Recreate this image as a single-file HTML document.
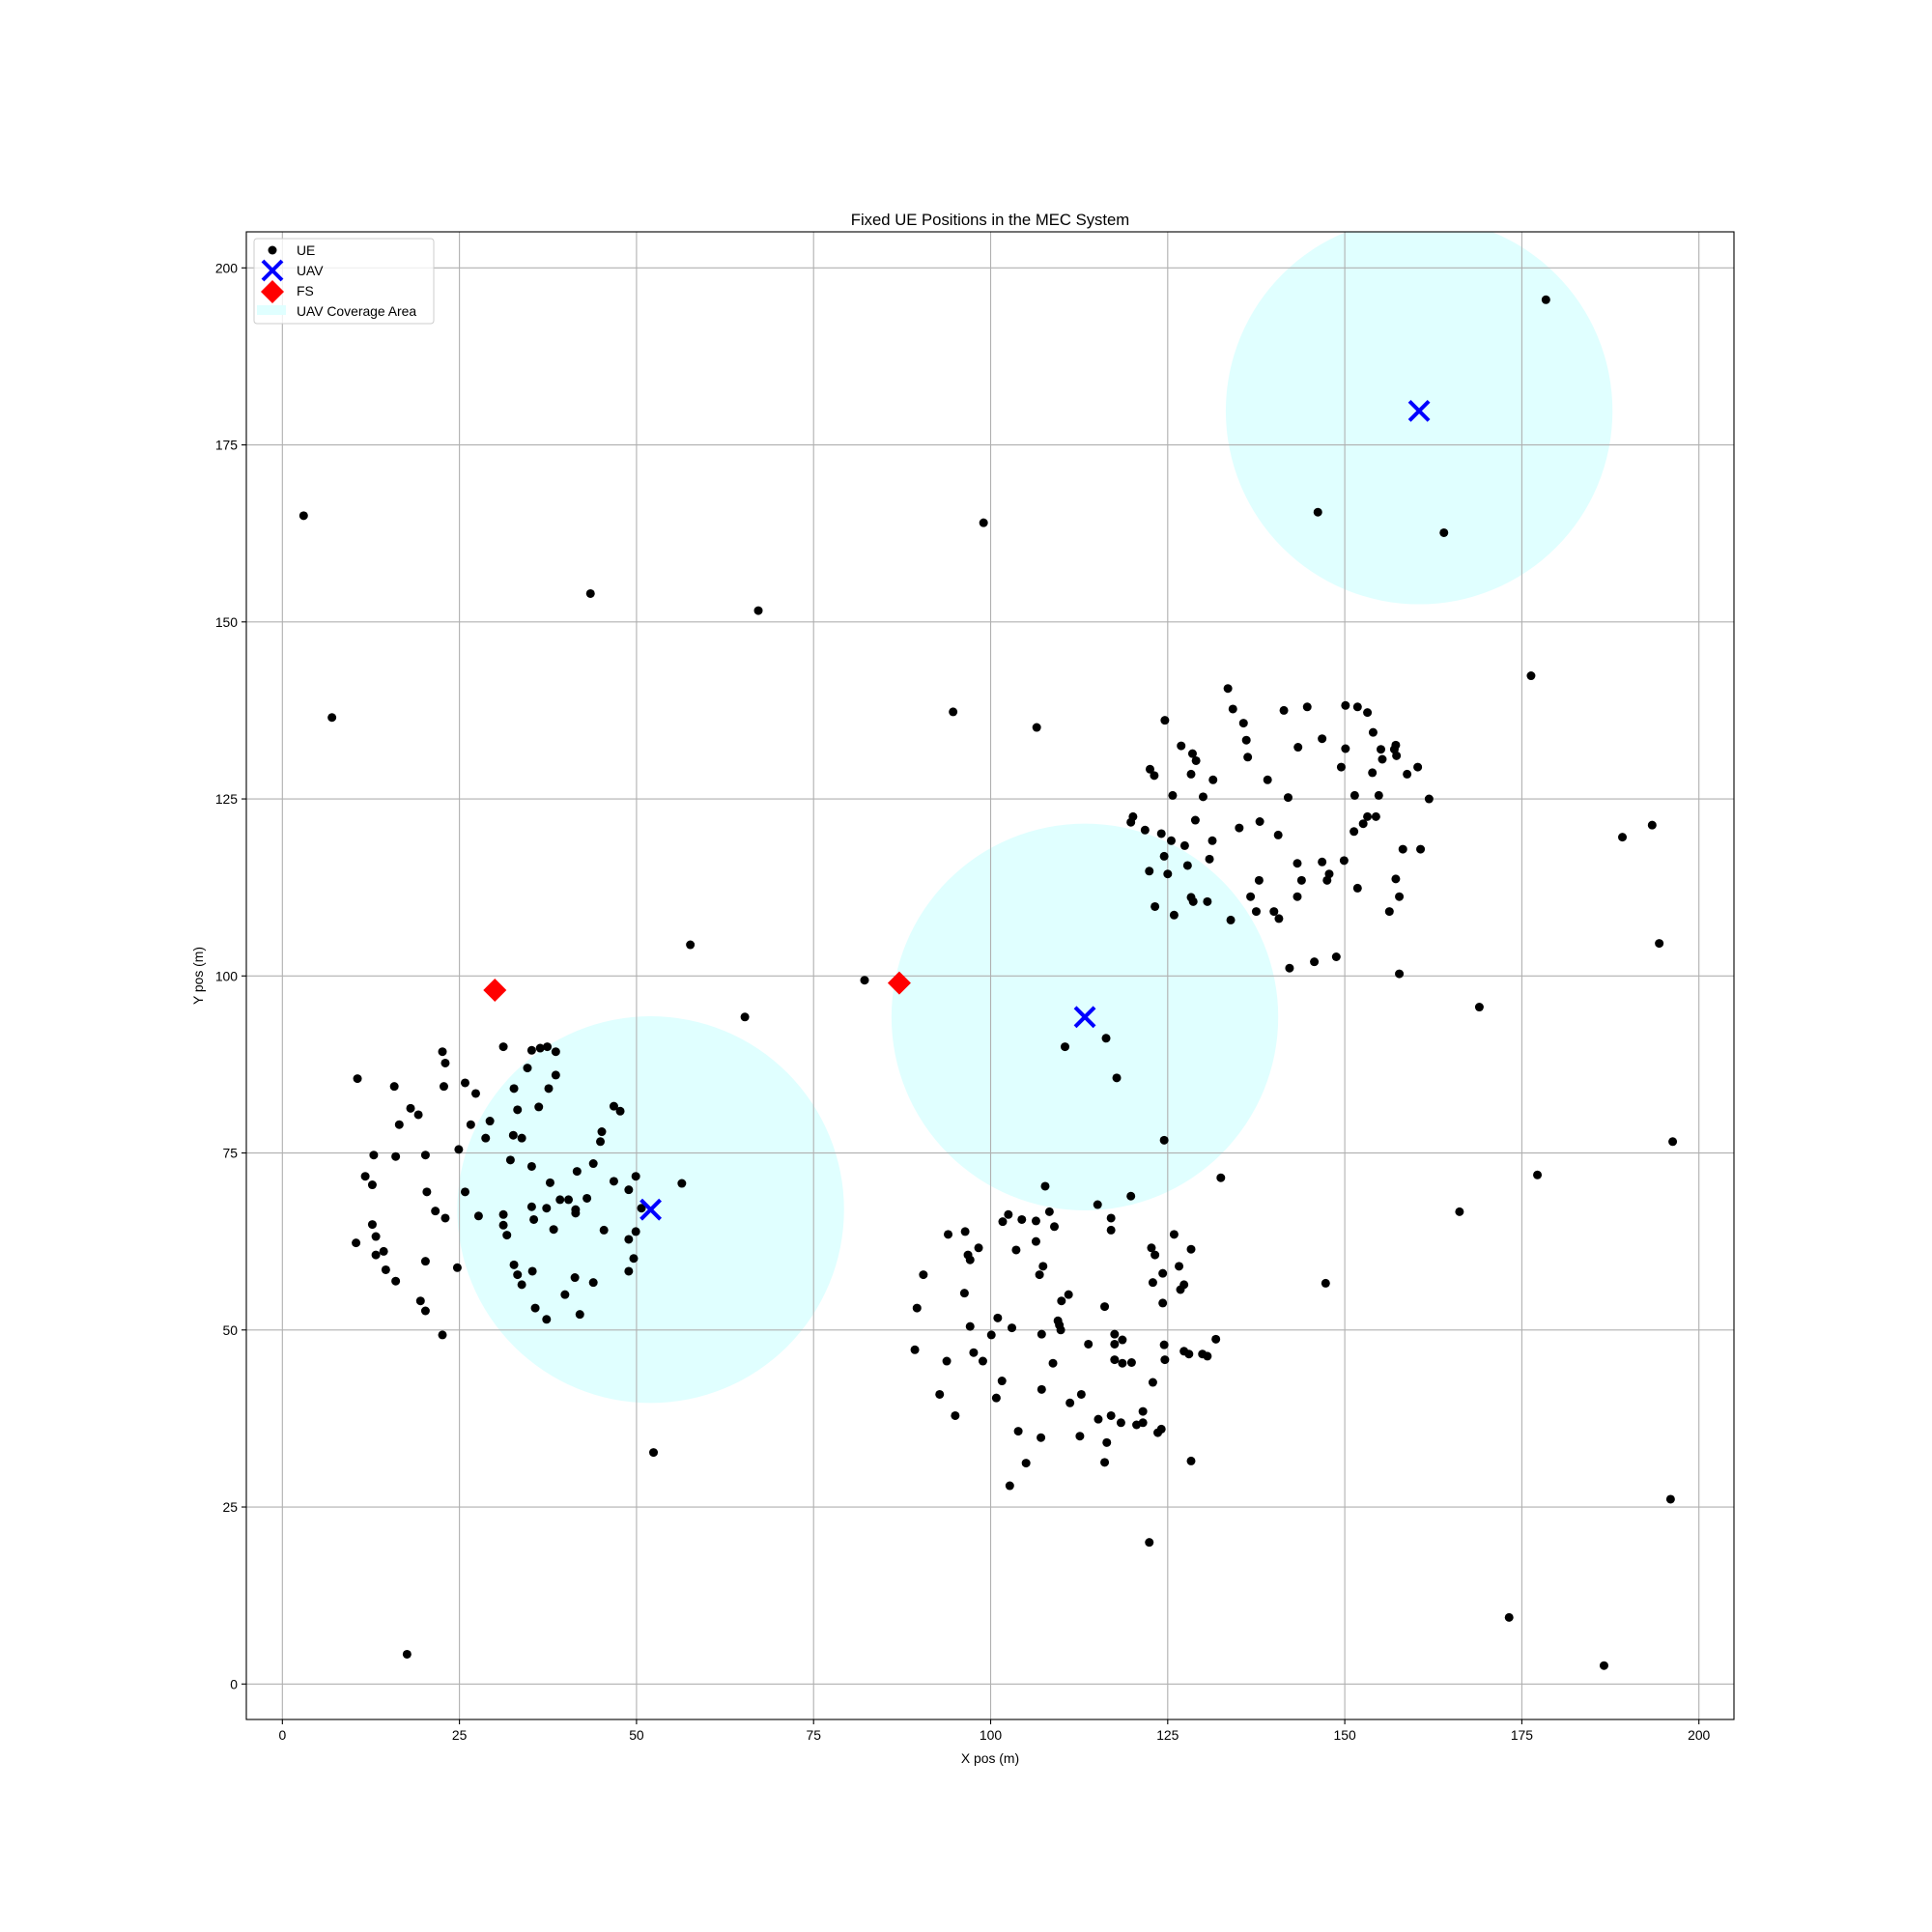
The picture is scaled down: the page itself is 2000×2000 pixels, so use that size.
<!DOCTYPE html>
<html><head><meta charset="utf-8"><style>
html,body{margin:0;padding:0;background:#fff;}
svg{display:block;font-family:"Liberation Sans","DejaVu Sans",sans-serif;}
</style></head><body>
<svg id="chart" width="2000" height="2000" viewBox="0 0 2000 2000">
<defs><clipPath id="plotclip"><rect x="255" y="240" width="1540" height="1540"/></clipPath></defs>
<rect x="0" y="0" width="2000" height="2000" fill="#fff"/>
<g id="circles" clip-path="url(#plotclip)"></g><g id="grid"></g><g id="points"></g><g id="ticks"></g>
<rect x="255" y="240" width="1540" height="1540" fill="none" stroke="#000" stroke-width="1.1"/>
<text x="1025" y="233" font-size="16.7" text-anchor="middle">Fixed UE Positions in the MEC System</text>
<text x="1025" y="1825" font-size="13.9" text-anchor="middle">X pos (m)</text>
<text x="210" y="1010" font-size="13.9" text-anchor="middle" transform="rotate(-90 210 1010)">Y pos (m)</text>
<g>
<rect x="263" y="247" width="186" height="88" rx="3" fill="#fff" fill-opacity="0.8" stroke="#ccc" stroke-width="1"/>
<g><circle cx="282" cy="259" r="4.5" fill="#000"/><text x="307" y="264" font-size="13.9">UE</text></g>
<g><path d="M272 270 L292 290 M292 270 L272 290" stroke="#0000ff" stroke-width="4"/><text x="307" y="285" font-size="13.9">UAV</text></g>
<g><path d="M282 290 L294 302 L282 314 L270 302 Z" fill="#ff0000"/><text x="307" y="306" font-size="13.9">FS</text></g>
<g><rect x="266" y="316" width="30" height="10" fill="#e0ffff"/><text x="307" y="327" font-size="13.9">UAV Coverage Area</text></g>
</g>
</svg>
<script>
const xTicks=[0,25,50,75,100,125,150,175,200];
const yTicks=[0,25,50,75,100,125,150,175,200];
const uavX=[52.0,113.3,160.5];
const uavY=[67.0,94.2,179.8];
const coverageRadius=[27.3,27.3,27.3];
const fsX=[30.0,87.1];
const fsY=[98.0,99.0];
const ueX=[3.0,7.0,43.5,67.2,99.0,94.7,106.5,57.6,65.3,82.2,146.2,164.0,178.4,176.3,189.2,193.4,194.4,169.0,196.3,177.2,166.2,147.3,196.0,173.2,186.6,122.4,17.6,52.4,110.5,116.3,117.8,124.5,132.5,
10.6,15.8,22.6,23.0,22.8,18.1,19.2,16.5,12.9,16.0,20.2,11.7,12.7,20.4,21.6,23.0,12.7,13.2,10.4,13.2,14.3,20.2,14.6,16.0,19.5,20.2,22.6,24.7,24.9,25.8,27.3,26.6,29.3,28.7,25.8,27.7,31.2,32.7,33.2,32.2,32.6,33.8,31.2,31.2,31.7,32.7,33.2,33.8,35.3,35.7,37.3,34.6,35.2,36.4,37.4,38.6,38.6,37.6,36.2,35.2,35.2,35.5,37.3,37.8,38.3,39.2,40.4,41.6,41.4,41.4,43.0,43.9,44.9,45.1,46.8,46.8,47.7,45.4,41.3,39.9,42.0,43.9,48.9,49.9,50.7,49.9,48.9,49.6,48.9,56.4,
107.7,108.3,102.5,101.7,104.4,106.4,109.0,96.4,94.0,98.3,106.4,103.6,96.8,97.1,107.4,106.9,90.5,96.3,111.0,110.0,89.6,101.0,97.1,103.0,109.5,109.7,109.9,107.2,100.1,89.3,97.6,93.8,98.9,108.8,101.6,100.8,92.8,95.0,107.2,111.2,112.8,103.9,107.1,105.0,102.7,112.6,115.2,117.0,118.4,113.8,116.1,115.1,117.0,117.0,119.8,117.5,118.6,117.5,117.5,118.6,119.9,116.4,116.1,120.6,121.5,121.5,122.9,124.6,124.5,124.3,122.9,124.3,122.7,123.2,125.9,126.6,127.3,126.8,128.3,127.3,128.0,129.9,130.6,131.8,124.1,123.6,128.3,
133.5,134.2,135.7,136.1,136.3,124.6,126.9,122.5,123.1,128.5,129.0,128.3,131.4,139.1,141.4,144.7,143.4,146.8,150.1,151.8,153.2,150.1,154.0,157.2,157.0,157.3,155.1,155.3,153.9,149.5,158.8,160.3,161.9,154.8,151.4,142.0,125.7,130.0,120.1,119.8,121.8,124.1,128.9,138.0,135.1,140.6,153.2,154.4,152.6,151.3,125.5,127.4,131.3,158.2,160.7,124.5,130.9,143.3,146.8,149.9,127.8,122.4,125.0,147.8,137.9,143.9,147.5,157.2,151.8,136.7,143.3,157.7,128.3,128.6,130.6,123.2,137.5,140.0,156.3,125.9,140.7,133.9,148.8,145.7,142.2,157.7];
const ueY=[165.0,136.5,154.0,151.6,164.0,137.3,135.1,104.4,94.2,99.4,165.5,162.6,195.5,142.4,119.6,121.3,104.6,95.6,76.6,71.9,66.7,56.6,26.1,9.4,2.6,20.0,4.2,32.7,90.0,91.2,85.6,76.8,71.5,
85.5,84.4,89.3,87.7,84.4,81.3,80.4,79.0,74.7,74.5,74.7,71.7,70.5,69.5,66.8,65.8,64.9,63.2,62.3,60.6,61.1,59.7,58.5,56.9,54.1,52.7,49.3,58.8,75.5,84.9,83.4,79.0,79.5,77.1,69.5,66.1,90.0,84.1,81.1,74.0,77.5,77.1,66.3,64.8,63.4,59.2,57.8,56.4,58.3,53.1,51.5,87.0,89.5,89.8,90.0,89.3,86.0,84.1,81.5,73.1,67.4,65.6,67.2,70.8,64.2,68.4,68.4,72.4,67.0,66.5,68.6,73.5,76.6,78.0,71.0,81.6,80.9,64.1,57.4,55.0,52.2,56.7,69.8,71.7,67.2,63.9,62.8,60.1,58.3,70.7,
70.3,66.7,66.3,65.3,65.6,65.4,64.6,63.9,63.5,61.6,62.5,61.3,60.6,59.9,59.0,57.8,57.8,55.2,55.0,54.1,53.1,51.7,50.5,50.3,51.3,50.7,50.0,49.4,49.3,47.2,46.8,45.6,45.6,45.3,42.8,40.4,40.9,37.9,41.6,39.7,40.9,35.7,34.8,31.2,28.0,35.0,37.4,37.9,36.9,48.0,53.3,67.7,65.8,64.1,68.9,49.4,48.6,48.0,45.8,45.3,45.4,34.1,31.3,36.6,36.9,38.5,42.6,45.8,47.9,53.8,56.7,58.0,61.6,60.6,63.5,59.0,56.4,55.7,61.4,47.0,46.6,46.6,46.3,48.7,36.0,35.5,31.5,
140.6,137.7,135.7,133.3,130.9,136.1,132.5,129.2,128.3,131.4,130.4,128.5,127.7,127.7,137.5,138.0,132.3,133.5,138.2,138.0,137.2,132.1,134.4,132.6,132.0,131.1,132.0,130.6,128.7,129.5,128.5,129.5,125.0,125.5,125.5,125.2,125.5,125.3,122.5,121.7,120.6,120.1,122.0,121.8,120.9,119.9,122.5,122.5,121.5,120.4,119.1,118.4,119.1,117.9,117.9,116.9,116.5,115.9,116.1,116.3,115.6,114.8,114.4,114.4,113.5,113.5,113.5,113.7,112.4,111.2,111.2,111.2,111.1,110.5,110.5,109.8,109.1,109.1,109.1,108.6,108.1,107.9,102.7,102.0,101.1,100.3];

const X0=255,X1=1795,Y0=240,Y1=1780;
const xMin=-5.09,xMax=204.95,yMin=-5.01,yMax=205.09;
function sx(v){return X0+(v-xMin)/(xMax-xMin)*(X1-X0);}
function sy(v){return Y1-(v-yMin)/(yMax-yMin)*(Y1-Y0);}
const NS="http://www.w3.org/2000/svg";
function mk(tag,attrs,parent){const e=document.createElementNS(NS,tag);for(const k in attrs)e.setAttribute(k,attrs[k]);parent.appendChild(e);return e;}
const gC=document.getElementById('circles'),gG=document.getElementById('grid'),gP=document.getElementById('points'),gT=document.getElementById('ticks');
const ppu=(X1-X0)/(xMax-xMin);
for(let i=0;i<uavX.length;i++){
  const c=mk('circle',{cx:sx(uavX[i]),cy:sy(uavY[i]),r:coverageRadius[i]*ppu,fill:'#e0ffff'},gC);
  
  
}
xTicks.forEach(t=>{
  const l=mk('line',{x1:sx(t),x2:sx(t),y1:Y0,y2:Y1,stroke:'#b0b0b0','stroke-width':1.1},gG);
  
  
  mk('line',{x1:sx(t),x2:sx(t),y1:Y1,y2:Y1+5,stroke:'#000','stroke-width':1.1},gT);
  const tx=mk('text',{x:sx(t),y:Y1+21,'font-size':13.9,'text-anchor':'middle'},gT);
  tx.textContent=t;
  
  
});
yTicks.forEach(t=>{
  const l=mk('line',{x1:X0,x2:X1,y1:sy(t),y2:sy(t),stroke:'#b0b0b0','stroke-width':1.1},gG);
  
  
  mk('line',{x1:X0-5,x2:X0,y1:sy(t),y2:sy(t),stroke:'#000','stroke-width':1.1},gT);
  const tx=mk('text',{x:X0-9,y:sy(t)+5,'font-size':13.9,'text-anchor':'end'},gT);
  tx.textContent=t;
  
  
});
for(let i=0;i<ueX.length;i++){
  const c=mk('circle',{cx:sx(ueX[i]),cy:sy(ueY[i]),r:4.5,fill:'#000'},gP);
  
  
}
for(let i=0;i<uavX.length;i++){
  const x=sx(uavX[i]),y=sy(uavY[i]),h=10;
  const p=mk('path',{d:`M${x-h} ${y-h} L${x+h} ${y+h} M${x+h} ${y-h} L${x-h} ${y+h}`,stroke:'#0000ff','stroke-width':4},gP);
  
  
}
for(let i=0;i<fsX.length;i++){
  const x=sx(fsX[i]),y=sy(fsY[i]),h=12;
  const p=mk('path',{d:`M${x} ${y-h} L${x+h} ${y} L${x} ${y+h} L${x-h} ${y} Z`,fill:'#ff0000'},gP);
  
  
}
</script>
</body></html>
